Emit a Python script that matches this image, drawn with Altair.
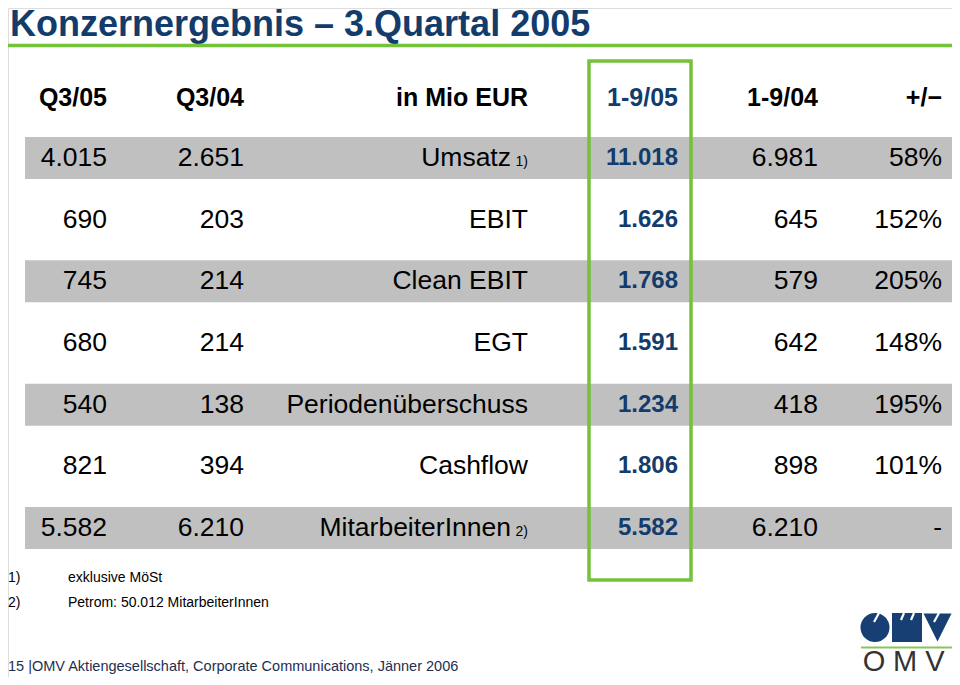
import altair as alt
import pandas as pd

# ---------------- data ----------------
title_text = "Konzernergebnis – 3.Quartal 2005"
headers = ["Q3/05", "Q3/04", "in Mio EUR", "1-9/05", "1-9/04", "+/−"]
labels = ["Umsatz", "EBIT", "Clean EBIT", "EGT", "Periodenüberschuss", "Cashflow", "MitarbeiterInnen"]
notes = ["1)", "", "", "", "", "", "2)"]
q305 = ["4.015", "690", "745", "680", "540", "821", "5.582"]
q304 = ["2.651", "203", "214", "214", "138", "394", "6.210"]
ytd05 = ["11.018", "1.626", "1.768", "1.591", "1.234", "1.806", "5.582"]
ytd04 = ["6.981", "645", "579", "642", "418", "898", "6.210"]
change = ["58%", "152%", "205%", "148%", "195%", "101%", "-"]
footnote_marks = ["1)", "2)"]
footnote_texts = ["exklusive MöSt", "Petrom: 50.012 MitarbeiterInnen"]
footer_text = "15 |OMV Aktiengesellschaft, Corporate Communications, Jänner 2006"
logo_letters = ["O", "M", "V"]

# ---------------- style ----------------
FONT = "Liberation Sans"
BLUE = "#123c6c"
GREEN = "#74c13a"
GRAY = "#c0c0c0"
W, H = 944, 669

df = pd.DataFrame({
    "idx": list(range(len(labels))),
    "label": labels, "note": notes,
    "q305": q305, "q304": q304, "ytd05": ytd05, "ytd04": ytd04, "change": change,
})

yscale = alt.Scale(domain=[0, 6], range=[150, 520])
base = alt.Chart(df)
one = pd.DataFrame({"a": [0]})


def txt(text, **kw):
    return alt.Chart(pd.DataFrame({"t": [text]})).mark_text(**kw).encode(text="t:N")


layers = []

# title and underline
layers.append(
    txt(title_text, align="left", baseline="alphabetic", font=FONT,
        fontSize=36, fontWeight="bold", color=BLUE).encode(x=alt.value(2), y=alt.value(28))
)
layers.append(
    alt.Chart(one).mark_rule(color=GREEN, strokeWidth=3.5).encode(
        x=alt.value(-2), x2=alt.value(946), y=alt.value(37.5))
)

# gray bands
layers.append(
    base.transform_filter("datum.idx % 2 == 0")
    .transform_calculate(y0="datum.idx - 0.34", y1="datum.idx + 0.34")
    .mark_rect(color=GRAY)
    .encode(x=alt.value(17), x2=alt.value(946),
            y=alt.Y("y0:Q", scale=yscale, axis=None), y2="y1:Q")
)

# headers
HX = [99, 236, 520, 670, 810, 934]
for h, xp in zip(headers, HX):
    layers.append(
        txt(h, align="right", baseline="middle", font=FONT, fontSize=25,
            fontWeight="bold", color=BLUE if h == "1-9/05" else "black")
        .encode(x=alt.value(xp), y=alt.value(90))
    )


def col(field, xp, size=26.5, bold=False, color="black", flt=None, dy=0):
    c = base
    if flt:
        c = c.transform_filter(flt)
    return c.mark_text(align="right", baseline="middle", font=FONT, fontSize=size,
                       fontWeight="bold" if bold else "normal", color=color, dy=dy).encode(
        x=alt.value(xp), y=alt.Y("idx:Q", scale=yscale, axis=None), text=f"{field}:N")


layers += [
    col("q305", 99),
    col("q304", 236),
    col("label", 520, flt="datum.note == ''"),
    col("label", 503, flt="datum.note != ''"),
    col("note", 520, size=14, flt="datum.note != ''", dy=4),
    col("ytd05", 670, size=24, bold=True, color=BLUE),
    col("ytd04", 810),
    col("change", 934),
]

# green highlight box
layers.append(
    alt.Chart(one).mark_rect(filled=False, stroke=GREEN, strokeWidth=3.5).encode(
        x=alt.value(581), x2=alt.value(683), y=alt.value(53), y2=alt.value(572))
)

# footnotes
for i, (m, t) in enumerate(zip(footnote_marks, footnote_texts)):
    yy = 570 + 25 * i
    layers.append(
        txt(m, align="left", baseline="middle", font=FONT, fontSize=14, color="black")
        .encode(x=alt.value(0), y=alt.value(yy))
    )
    layers.append(
        txt(t, align="left", baseline="middle", font=FONT, fontSize=14, color="black")
        .encode(x=alt.value(60), y=alt.value(yy))
    )

# footer
layers.append(
    txt(footer_text, align="left", baseline="middle", font=FONT, fontSize=14.5,
        color="#1c2f52").encode(x=alt.value(0), y=alt.value(659))
)

# logo (shifted slightly left so it stays inside the drawing area)
LOGO_BLUE = "#173f74"
dx = -6
layers.append(
    alt.Chart(one).mark_point(shape="circle", filled=True, opacity=1, color=LOGO_BLUE, size=841, strokeWidth=0)
    .encode(x=alt.value(873 + dx), y=alt.value(619.5))
)
layers.append(
    alt.Chart(one).mark_rect(color=LOGO_BLUE).encode(
        x=alt.value(890 + dx), x2=alt.value(920 + dx), y=alt.value(605), y2=alt.value(634))
)
layers.append(
    alt.Chart(one).mark_point(shape="M-1,-1L1,-1L0,1Z", filled=True, opacity=1, color=LOGO_BLUE,
                              size=784, strokeWidth=0)
    .encode(x=alt.value(935.5 + dx), y=alt.value(619.5))
)
for (x1, y1, x2, y2) in [(877, 605, 872, 614), (902, 605, 899, 612), (912, 605, 909, 612), (937, 605, 932, 614)]:
    layers.append(
        alt.Chart(one).mark_rule(color="white", strokeWidth=2.2).encode(
            x=alt.value(x1 + dx), y=alt.value(y1), x2=alt.value(x2 + dx), y2=alt.value(y2))
    )
layers.append(
    alt.Chart(one).mark_rule(color="#8cc45a", strokeWidth=2).encode(
        x=alt.value(859 + dx), x2=alt.value(944), y=alt.value(639.5))
)
for ch, xp in zip(logo_letters, [866, 897, 927]):
    layers.append(
        txt(ch, align="center", baseline="alphabetic", font=FONT, fontSize=29,
            color="#333333").encode(x=alt.value(xp), y=alt.value(663))
    )

chart = alt.layer(*layers).properties(
    width=W, height=H, padding=0, autosize=alt.AutoSizeParams(type="none")
).configure_view(stroke=None).configure(background="white")

chart.save("out.html", embed_options={"renderer": "svg", "actions": False})
